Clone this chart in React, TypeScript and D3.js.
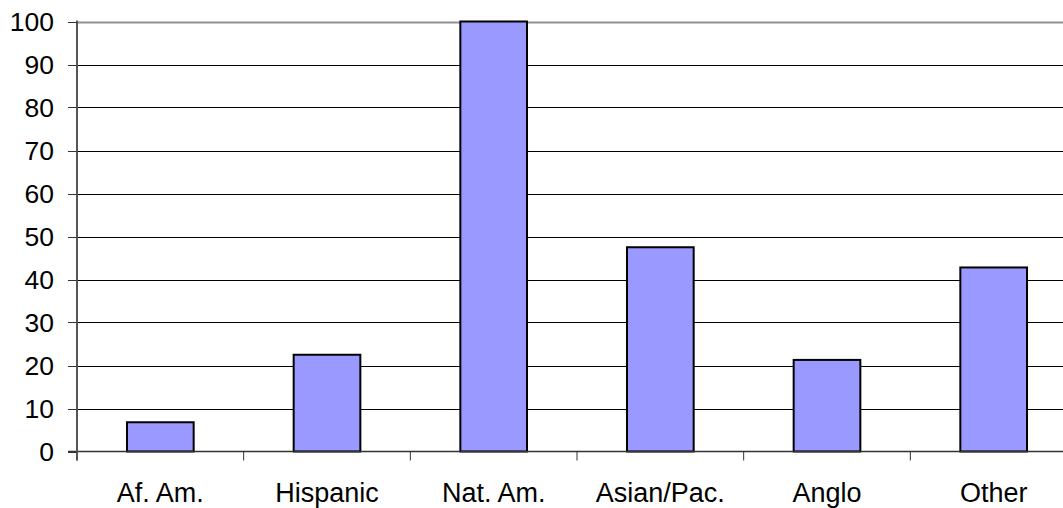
import React from "react";
import * as d3 from "d3";

const WIDTH = 1063;
const HEIGHT = 508;

const categories = ["Af. Am.", "Hispanic", "Nat. Am.", "Asian/Pac.", "Anglo", "Other"];
const values = [6.8, 22.5, 100, 47.5, 21.3, 42.8];
const yTicks = [0, 10, 20, 30, 40, 50, 60, 70, 80, 90, 100];

const margin = { top: 21.5, left: 77, bottom: 56.5, plotWidth: 1000 };

const FONT = "'Liberation Sans', Arial, sans-serif";

const App = () => {
  const svgRef = React.useRef<SVGSVGElement>(null);

  React.useEffect(() => {
    const svg = d3.select(svgRef.current);
    svg.selectAll("*").remove();

    const x0 = margin.left;
    const x1 = margin.left + margin.plotWidth;
    const y0 = HEIGHT - margin.bottom;

    const x = d3
      .scaleBand()
      .domain(categories)
      .range([x0, x1])
      .paddingInner(0.6)
      .paddingOuter(0.3);

    const y = d3.scaleLinear().domain([0, 100]).range([y0, margin.top]);

    // gridlines
    svg
      .append("g")
      .selectAll("line")
      .data(yTicks.filter((t) => t > 0))
      .join("line")
      .attr("x1", x0)
      .attr("x2", x1)
      .attr("y1", (d: number) => Math.round(y(d)) + 0.5)
      .attr("y2", (d: number) => Math.round(y(d)) + 0.5)
      .attr("stroke", (d: number) => (d === 100 ? "#909090" : "#000"))
      .attr("stroke-width", (d: number) => (d === 100 ? 2 : 1));

    // bars
    svg
      .append("g")
      .selectAll("rect")
      .data(values)
      .join("rect")
      .attr("x", (_d: number, i: number) => x(categories[i]) as number)
      .attr("y", (d: number) => y(d))
      .attr("width", x.bandwidth())
      .attr("height", (d: number) => y0 - y(d))
      .attr("fill", "#9999FF")
      .attr("stroke", "#000")
      .attr("stroke-width", 2);

    // x axis line and category ticks
    svg
      .append("line")
      .attr("x1", x0 - 9)
      .attr("x2", x1)
      .attr("y1", y0)
      .attr("y2", y0)
      .attr("stroke", "#333")
      .attr("stroke-width", 1.5);

    const step = x.step();
    svg
      .append("g")
      .selectAll("line")
      .data(d3.range(categories.length + 1))
      .join("line")
      .attr("x1", (i: number) => x0 + i * step)
      .attr("x2", (i: number) => x0 + i * step)
      .attr("y1", y0)
      .attr("y2", y0 + 9)
      .attr("stroke", "#333")
      .attr("stroke-width", 1);

    // y axis
    svg
      .append("line")
      .attr("x1", x0)
      .attr("x2", x0)
      .attr("y1", margin.top - 1)
      .attr("y2", y0 + 9)
      .attr("stroke", "#555")
      .attr("stroke-width", 2);

    svg
      .append("g")
      .selectAll("line")
      .data(yTicks)
      .join("line")
      .attr("x1", x0 - 9)
      .attr("x2", x0)
      .attr("y1", (d: number) => Math.round(y(d)) + 0.5)
      .attr("y2", (d: number) => Math.round(y(d)) + 0.5)
      .attr("stroke", "#333")
      .attr("stroke-width", 1);

    svg
      .append("g")
      .attr("font-family", FONT)
      .attr("font-size", 26.5)
      .attr("text-anchor", "end")
      .selectAll("text")
      .data(yTicks)
      .join("text")
      .attr("x", x0 - 23)
      .attr("y", (d: number) => y(d))
      .attr("dy", "0.36em")
      .attr("fill", "#000")
      .text((d: number) => String(d));

    svg
      .append("g")
      .attr("font-family", FONT)
      .attr("font-size", 27)
      .attr("text-anchor", "middle")
      .selectAll("text")
      .data(categories)
      .join("text")
      .attr("x", (d: string) => (x(d) as number) + x.bandwidth() / 2)
      .attr("y", y0 + 50)
      .attr("fill", "#000")
      .text((d: string) => d);
  }, []);

  return (
    <div style={{ position: "absolute", left: 0, top: 0, width: WIDTH, height: HEIGHT, overflow: "hidden", background: "#fff" }}>
      <svg ref={svgRef} width={WIDTH} height={HEIGHT} />
    </div>
  );
};

export default App;
